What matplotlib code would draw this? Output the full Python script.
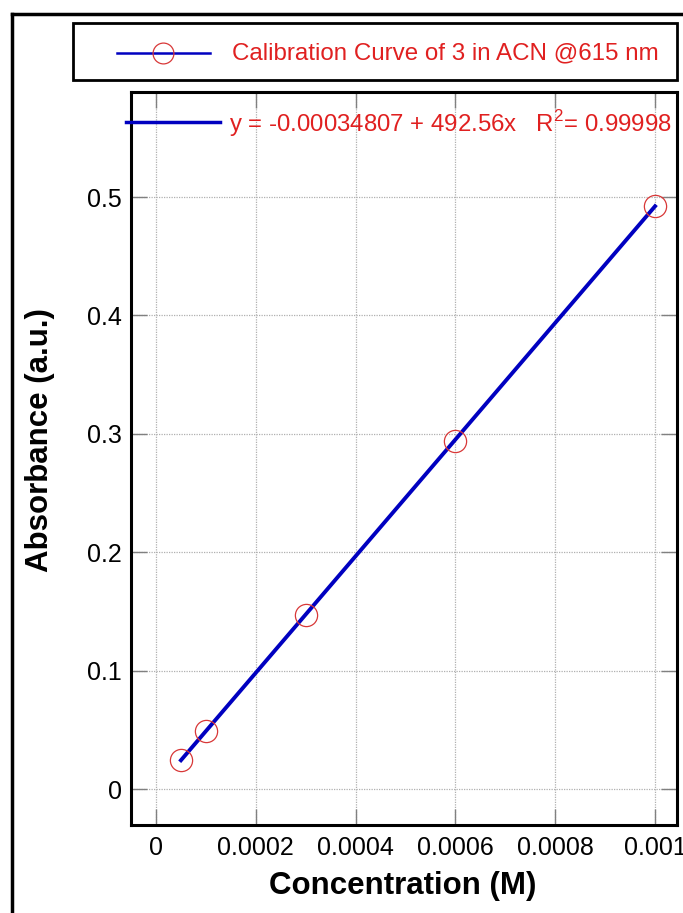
import matplotlib
matplotlib.use("Agg")
import matplotlib.pyplot as plt
import numpy as np
from matplotlib.lines import Line2D
from matplotlib.patches import Rectangle

# Data
conc = [0.00005, 0.0001, 0.0003, 0.0006, 0.001]
absorb = [0.0245, 0.049, 0.147, 0.294, 0.492]
intercept = -0.00034807
slope = 492.56
xticks = [0, 0.0002, 0.0004, 0.0006, 0.0008, 0.001]
xticklabels = ["0", "0.0002", "0.0004", "0.0006", "0.0008", "0.001"]
yticks = [0, 0.1, 0.2, 0.3, 0.4, 0.5]
yticklabels = ["0", "0.1", "0.2", "0.3", "0.4", "0.5"]
legend_label = "Calibration Curve of 3 in ACN @615 nm"
fit_label = r"y = -0.00034807 + 492.56x   R$^2$= 0.99998"

plt.rcParams['font.family'] = ['Liberation Sans', 'DejaVu Sans']
plt.rcParams['mathtext.fontset'] = 'custom'
plt.rcParams['mathtext.rm'] = 'Liberation Sans'

W, H = 683, 913
fig = plt.figure(figsize=(W / 100, H / 100), dpi=100)

def fx(px):
    return px / W

def fy(py):
    return 1 - py / H

ax = fig.add_axes([fx(131), fy(825), fx(677) - fx(131), fy(92) - fy(825)])

xfit = np.array([conc[0], conc[-1]])
ax.plot(xfit, intercept + slope * xfit, color='#0000c0', lw=2.8, zorder=3)
ax.plot(conc, absorb, linestyle='none', marker='o', ms=16, mfc='none',
        mec='#d83838', mew=0.9, zorder=4)

ax.set_xlim(-0.0000501, 0.001044)
ax.set_ylim(-0.0304, 0.5887)
ax.set_xticks(xticks)
ax.set_xticklabels(xticklabels)
ax.set_yticks(yticks)
ax.set_yticklabels(yticklabels)
ax.tick_params(direction='in', length=11.5, width=1.0, color='#808080',
               labelsize=18, top=True, right=True)
ax.tick_params(axis='y', pad=6.5)
ax.tick_params(axis='x', pad=8)
ax.grid(True, color='#b0b0b0', linestyle=(0, (1, 1)), lw=0.9)
for s in ax.spines.values():
    s.set_linewidth(2.2)
    s.set_color('black')

fig.text(fx(403), fy(886), "Concentration (M)", fontsize=22.5, fontweight='bold',
         ha='center', va='center')
fig.text(fx(40.5), fy(440), "Absorbance (a.u.)", fontsize=22.5, fontweight='bold',
         rotation=90, ha='center', va='center')

# Outer frame
fig.add_artist(Line2D([fx(12), fx(12)], [fy(14), 0], color='black', lw=2.5))
fig.add_artist(Line2D([fx(12), 1], [fy(14), fy(14)], color='black', lw=2.5))

# Legend box
fig.add_artist(Rectangle((fx(73), fy(80)), fx(677) - fx(73), fy(23) - fy(80),
                         transform=fig.transFigure, fill=False,
                         edgecolor='black', lw=2.0))
fig.add_artist(Line2D([fx(117), fx(210)], [fy(53), fy(53)], color='#0000c0', lw=1.8))
fig.add_artist(Line2D([fx(163)], [fy(53)], linestyle='none', marker='o', ms=15,
                      mfc='none', mec='#d83838', mew=0.9))
fig.text(fx(232), fy(53), legend_label, color='#e02020', fontsize=17.4,
         ha='left', va='center')

# Fit annotation
fig.add_artist(Line2D([fx(126), fx(220)], [fy(122), fy(122)], color='#0000c0', lw=2.5))
fig.text(fx(229), fy(124), fit_label, color='#e02020', fontsize=17.3,
         ha='left', va='center')

fig.savefig("out.png", dpi=100)
